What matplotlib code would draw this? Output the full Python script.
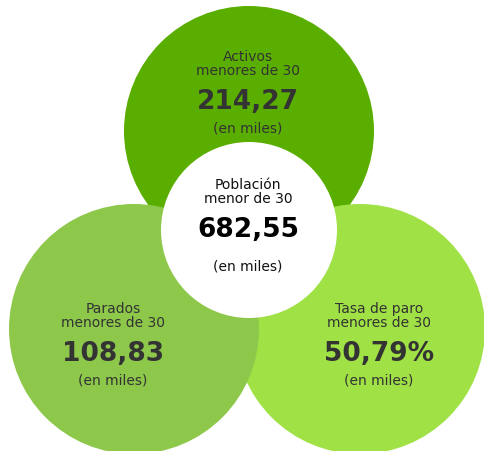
import matplotlib.pyplot as plt
from matplotlib.patches import Circle

# data shown in the diagram
titles = ["Activos\nmenores de 30", "Parados\nmenores de 30", "Tasa de paro\nmenores de 30"]
values = ["214,27", "108,83", "50,79%"]
units = ["(en miles)", "(en miles)", "(en miles)"]
center_title = "Población\nmenor de 30"
center_value = "682,55"
center_unit = "(en miles)"

colors = ["#5aae00", "#8dc84b", "#a0e146"]
# circle centres (pixel coords, y down) and radius
centres = [(249, 132), (134, 330), (360, 330)]
radius = 125
# drawing order: top, right, left
order = [0, 2, 1]

plt.rcParams['font.family'] = ['DejaVu Sans']

fig = plt.figure(figsize=(4.84, 4.52), dpi=100)
ax = fig.add_axes([0, 0, 1, 1])
ax.set_xlim(0, 484)
ax.set_ylim(452, 0)
ax.set_aspect('equal')
ax.axis('off')

for i in order:
    ax.add_patch(Circle(centres[i], radius, color=colors[i], lw=0))
ax.add_patch(Circle((249, 231), 88, color='white', lw=0))

# text positions inside each circle
text_x = [248, 113, 379]
text_y = [64, 316, 316]
for i in range(3):
    x, y = text_x[i], text_y[i]
    ax.text(x, y, titles[i], ha='center', va='center', fontsize=10,
            color='#333333', linespacing=1.05)
    ax.text(x, y + 38, values[i], ha='center', va='center', fontsize=19,
            fontweight='bold', color='#333333')
    ax.text(x, y + 65, units[i], ha='center', va='center', fontsize=10,
            color='#333333')

ax.text(248, 192, center_title, ha='center', va='center', fontsize=10,
        color='#111111', linespacing=1.05)
ax.text(248, 230, center_value, ha='center', va='center', fontsize=19,
        fontweight='bold', color='#000000')
ax.text(248, 267, center_unit, ha='center', va='center', fontsize=10,
        color='#111111')

fig.savefig('out.png', dpi=100)
